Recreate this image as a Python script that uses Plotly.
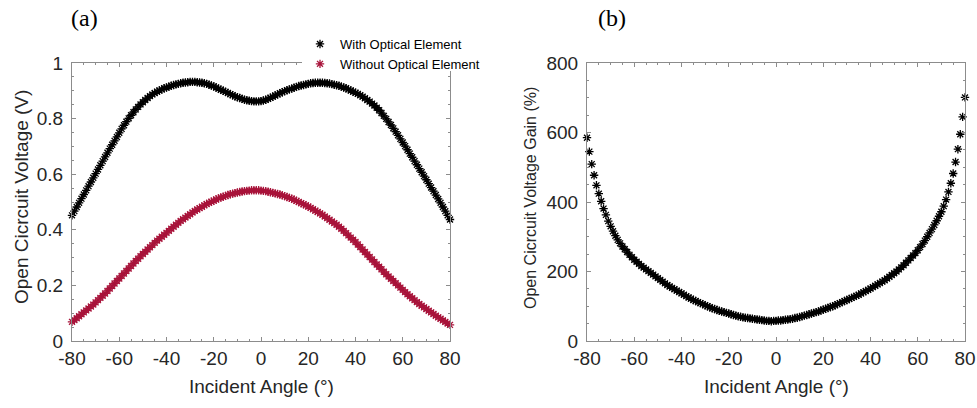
import plotly.graph_objects as go

angles = list(range(-80, 81))

with_optical = [
    0.452, 0.467, 0.482, 0.497, 0.512, 0.527, 0.542, 0.557, 0.572, 0.587,
    0.602, 0.617, 0.632, 0.647, 0.662, 0.677, 0.692, 0.706, 0.720, 0.734,
    0.749, 0.763, 0.776, 0.789, 0.801, 0.812, 0.823, 0.833, 0.842, 0.851,
    0.859, 0.867, 0.874, 0.881, 0.887, 0.892, 0.897, 0.901, 0.905, 0.909,
    0.912, 0.915, 0.918, 0.921, 0.923, 0.925, 0.927, 0.929, 0.930, 0.931,
    0.932, 0.932, 0.932, 0.931, 0.930, 0.929, 0.927, 0.925, 0.922, 0.919,
    0.916, 0.912, 0.908, 0.904, 0.900, 0.896, 0.892, 0.888, 0.884, 0.880,
    0.877, 0.874, 0.871, 0.868, 0.866, 0.864, 0.863, 0.862, 0.862, 0.862,
    0.863, 0.865, 0.868, 0.871, 0.875, 0.879, 0.883, 0.887, 0.891, 0.895,
    0.899, 0.902, 0.905, 0.908, 0.911, 0.914, 0.917, 0.919, 0.921, 0.923,
    0.925, 0.927, 0.928, 0.929, 0.929, 0.929, 0.929, 0.928, 0.927, 0.926,
    0.924, 0.922, 0.920, 0.918, 0.915, 0.912, 0.909, 0.905, 0.901, 0.897,
    0.893, 0.889, 0.884, 0.879, 0.873, 0.867, 0.861, 0.854, 0.847, 0.839,
    0.830, 0.820, 0.810, 0.799, 0.788, 0.777, 0.765, 0.753, 0.740, 0.727,
    0.714, 0.701, 0.688, 0.674, 0.661, 0.647, 0.634, 0.620, 0.607, 0.593,
    0.580, 0.566, 0.552, 0.539, 0.525, 0.511, 0.497, 0.482, 0.467, 0.452,
    0.437,
]

without_optical = [
    0.069, 0.075, 0.082, 0.089, 0.096, 0.103, 0.110, 0.117, 0.124, 0.131,
    0.139, 0.147, 0.155, 0.163, 0.171, 0.180, 0.189, 0.198, 0.207, 0.216,
    0.225, 0.234, 0.243, 0.252, 0.261, 0.270, 0.279, 0.288, 0.296, 0.305,
    0.313, 0.321, 0.329, 0.337, 0.345, 0.353, 0.361, 0.368, 0.375, 0.382,
    0.389, 0.396, 0.404, 0.411, 0.418, 0.425, 0.432, 0.438, 0.444, 0.450,
    0.456, 0.462, 0.468, 0.473, 0.478, 0.483, 0.488, 0.493, 0.497, 0.501,
    0.505, 0.509, 0.513, 0.516, 0.519, 0.522, 0.525, 0.528, 0.530, 0.532,
    0.534, 0.536, 0.538, 0.539, 0.540, 0.541, 0.542, 0.542, 0.542, 0.542,
    0.541, 0.540, 0.539, 0.537, 0.535, 0.533, 0.531, 0.529, 0.527, 0.524,
    0.521, 0.518, 0.515, 0.512, 0.508, 0.504, 0.500, 0.496, 0.492, 0.488,
    0.484, 0.479, 0.474, 0.469, 0.464, 0.459, 0.454, 0.448, 0.442, 0.436,
    0.430, 0.424, 0.418, 0.411, 0.404, 0.396, 0.388, 0.380, 0.372, 0.364,
    0.356, 0.347, 0.338, 0.329, 0.320, 0.311, 0.302, 0.293, 0.284, 0.275,
    0.267, 0.258, 0.249, 0.240, 0.232, 0.224, 0.216, 0.208, 0.200, 0.192,
    0.184, 0.176, 0.168, 0.161, 0.154, 0.147, 0.140, 0.133, 0.127, 0.121,
    0.115, 0.109, 0.103, 0.097, 0.091, 0.085, 0.080, 0.074, 0.069, 0.063,
    0.058,
]

gain = [
    585, 545, 509, 477, 448, 424, 402, 381, 363, 345,
    330, 316, 303, 291, 281, 272, 264, 256, 248, 241,
    234, 228, 222, 216, 211, 206, 201, 196, 191, 186,
    181, 176, 171, 166, 161, 157, 153, 149, 145, 141,
    137, 133, 129, 125, 122, 118, 115, 112, 109, 106,
    103, 100, 97, 94, 92, 89, 87, 85, 83, 81,
    79, 77, 75, 73, 71, 70, 68, 67, 66, 65,
    64, 63, 62, 61, 60, 59, 58, 58, 57, 58,
    58, 59, 59, 60, 61, 62, 63, 64, 66, 67,
    69, 71, 73, 75, 77, 79, 81, 83, 85, 88,
    90, 93, 95, 98, 100, 103, 106, 109, 112, 115,
    118, 121, 124, 127, 130, 133, 137, 140, 144, 147,
    151, 155, 159, 163, 167, 171, 175, 180, 185, 190,
    195, 200, 206, 212, 218, 225, 232, 239, 246, 253,
    261, 270, 279, 289, 300, 311, 322, 334, 346, 359,
    372, 388, 407, 429, 454, 482, 515, 552, 595, 645,
    701,
]

x_ticks = [-80, -60, -40, -20, 0, 20, 40, 60, 80]
x_labels = ["-80", "-60", "-40", "-20", "0", "20", "40", "60", "80"]
y1_ticks = [0, 0.2, 0.4, 0.6, 0.8, 1]
y1_labels = ["0", "0.2", "0.4", "0.6", "0.8", "1"]
y2_ticks = [0, 200, 400, 600, 800]
y2_labels = ["0", "200", "400", "600", "800"]

W, H = 977, 408
BLACK = "#000000"
RED = "#A8133A"
AXC = "#8c8c8c"
TXT = "#262626"
FONT = "Liberation Sans, Arial, sans-serif"

def px_x(p):
    return p / W

def px_y(p):
    return 1 - p / H

fig = go.Figure()

def mk(color):
    return dict(symbol="asterisk-open", size=7, color=color,
                line=dict(color=color, width=1.3))

fig.add_trace(go.Scatter(
    x=angles, y=with_optical, mode="markers", name="With Optical Element",
    marker=mk(BLACK), cliponaxis=False, xaxis="x", yaxis="y"))
fig.add_trace(go.Scatter(
    x=angles, y=without_optical, mode="markers", name="Without Optical Element",
    marker=mk(RED), cliponaxis=False, xaxis="x", yaxis="y"))
fig.add_trace(go.Scatter(
    x=angles, y=gain, mode="markers", name="Gain", showlegend=False,
    marker=mk(BLACK), cliponaxis=False, xaxis="x2", yaxis="y2"))

axis_common = dict(
    showline=True, linecolor=AXC, linewidth=1, mirror="ticks",
    ticks="inside", ticklen=4, tickcolor=AXC, tickwidth=1,
    showgrid=False, zeroline=False, automargin=False,
    tickfont=dict(family=FONT, size=19, color=TXT),
)

y_dom = [px_y(341), px_y(63)]

fig.update_layout(
    template="none",
    width=W, height=H,
    margin=dict(l=0, r=0, t=0, b=0, autoexpand=False),
    paper_bgcolor="white", plot_bgcolor="white",
    xaxis=dict(**axis_common, domain=[px_x(72), px_x(450)], range=[-80, 80],
               tickvals=x_ticks, ticktext=x_labels, anchor="y",
               minor=dict(ticks="inside", ticklen=2, dtick=5, tick0=0, tickcolor=AXC)),
    yaxis=dict(**axis_common, domain=y_dom, range=[0, 1],
               tickvals=y1_ticks, ticktext=y1_labels, anchor="x", ticklabelstandoff=4,
               minor=dict(ticks="inside", ticklen=2, dtick=0.05, tick0=0, tickcolor=AXC)),
    xaxis2=dict(**axis_common, domain=[px_x(587), px_x(965)], range=[-80, 80],
                tickvals=x_ticks, ticktext=x_labels, anchor="y2",
                minor=dict(ticks="inside", ticklen=2, dtick=5, tick0=0, tickcolor=AXC)),
    yaxis2=dict(**axis_common, domain=y_dom, range=[0, 800],
                tickvals=y2_ticks, ticktext=y2_labels, anchor="x2", ticklabelstandoff=4,
                minor=dict(ticks="inside", ticklen=2, dtick=50, tick0=0, tickcolor=AXC)),
    legend=dict(
        x=px_x(300), y=px_y(29), xanchor="left", yanchor="top",
        bgcolor="rgba(0,0,0,0)", borderwidth=0,
        font=dict(family=FONT, size=13, color=BLACK),
        itemwidth=30, tracegroupgap=0,
    ),
    showlegend=True,
    shapes=[dict(type="rect", xref="paper", yref="paper",
                 x0=px_x(302), x1=px_x(500), y0=px_y(71), y1=px_y(30),
                 fillcolor="white", line=dict(width=0), layer="above")],
)

annotations = [
    dict(text="Open Cicrcuit Voltage (V)", x=px_x(21), y=px_y(197), textangle=-90,
         font=dict(family=FONT, size=19, color=TXT)),
    dict(text="Incident Angle (°)", x=px_x(261), y=px_y(386),
         font=dict(family=FONT, size=19, color=TXT)),
    dict(text="Open Cicrcuit Voltage Gain (%)", x=px_x(530), y=px_y(198), textangle=-90,
         font=dict(family=FONT, size=16, color=TXT)),
    dict(text="Incident Angle (°)", x=px_x(776), y=px_y(386),
         font=dict(family=FONT, size=19, color=TXT)),
    dict(text="(a)", x=px_x(84), y=px_y(18),
         font=dict(family="Liberation Serif, Times New Roman, serif", size=24, color=BLACK)),
    dict(text="(b)", x=px_x(612), y=px_y(18),
         font=dict(family="Liberation Serif, Times New Roman, serif", size=24, color=BLACK)),
]
for a in annotations:
    a.update(xref="paper", yref="paper", showarrow=False, xanchor="center", yanchor="middle")
fig.update_layout(annotations=annotations)

fig.write_html(
    "out.html",
    config={"displayModeBar": False},
    post_script="document.body.style.margin='0';document.body.style.overflow='hidden';",
)
